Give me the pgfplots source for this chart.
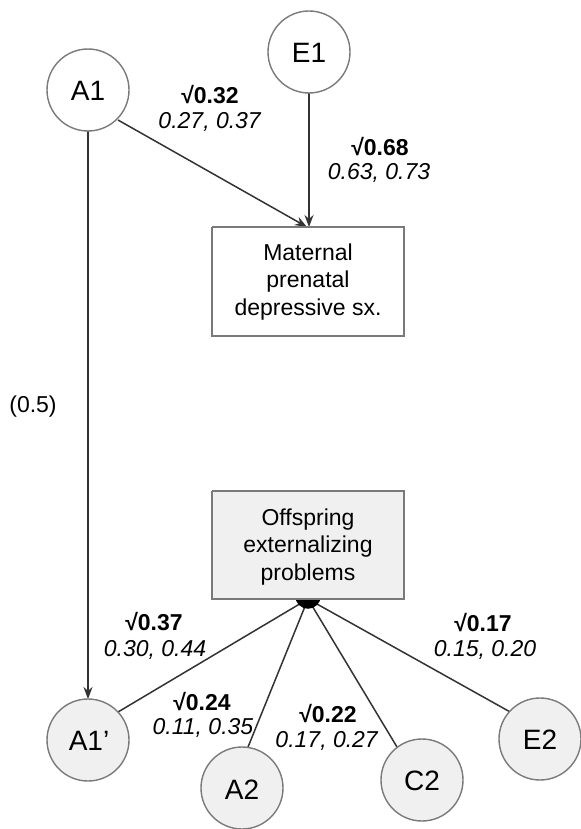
\documentclass[border=0pt]{standalone}
\usepackage{fontspec}
\setmainfont{Liberation Sans}
\usepackage{pgfplots}
\pgfplotsset{compat=1.18}
\usetikzlibrary{arrows.meta}
\definecolor{lin}{HTML}{333333}
\definecolor{bord}{HTML}{7A7A7A}
\definecolor{lgray}{HTML}{F0F0F0}
\begin{document}
\begin{tikzpicture}
\begin{axis}[
  width=290.5pt, height=414.5pt, scale only axis,
  xmin=0, xmax=581, ymin=0, ymax=829, y dir=reverse,
  axis lines=none, ticks=none, clip=false, clip marker paths=true,
  every axis plot/.append style={line width=0.75pt},
]
% paths
\addplot[lin, -{Stealth[length=6pt,width=4.5pt]}] coordinates {(118,120) (307,227)};
\addplot[lin, -{Stealth[length=6pt,width=4.5pt]}] coordinates {(309,92) (309,227)};
\addplot[lin, -{Stealth[length=6pt,width=4.5pt]}] coordinates {(88,130) (88,699)};
\addplot[lin] coordinates {(118,712) (308,599)};
\addplot[lin] coordinates {(246,752) (308,599)};
\addplot[lin] coordinates {(397,747) (308,599)};
\addplot[lin] coordinates {(512,713) (308,599)};
\addplot[only marks, mark=*, mark size=6pt, black] coordinates {(308,596)};
% boxes
\addplot[draw=bord, fill=white, line width=0.75pt] coordinates {(212,227) (404,227) (404,336) (212,336) (212,227)};
\addplot[draw=bord, fill=lgray, line width=0.75pt] coordinates {(212,491) (404,491) (404,599) (212,599) (212,491)};
% latent variables
\addplot[only marks, mark=*, mark size=20.5pt, mark options={draw=bord, fill=white, line width=0.7pt}] coordinates {(88,90) (309,52)};
\addplot[only marks, mark=*, mark size=20.5pt, mark options={draw=bord, fill=lgray, line width=0.7pt}] coordinates {(88,740) (242,788) (422,780) (540,739)};
% node texts
\node[font=\fontsize{14}{16}\selectfont] at (axis cs:88,91) {A1};
\node[font=\fontsize{14}{16}\selectfont] at (axis cs:309,53) {E1};
\node[font=\fontsize{14}{16}\selectfont] at (axis cs:89,741) {A1’};
\node[font=\fontsize{14}{16}\selectfont] at (axis cs:242,790) {A2};
\node[font=\fontsize{14}{16}\selectfont] at (axis cs:422,781) {C2};
\node[font=\fontsize{14}{16}\selectfont] at (axis cs:540,740) {E2};
\node[align=center, font=\fontsize{11.5}{13.6}\selectfont] at (axis cs:308,282) {Maternal\\prenatal\\depressive sx.};
\node[align=center, font=\fontsize{11.5}{13.8}\selectfont] at (axis cs:308,547) {Offspring\\externalizing\\problems};
\begin{scope}[every node/.style={font=\fontsize{11.5}{13}\selectfont}]
\node at (axis cs:210,95) {\textbf{√0.32}};
\node at (axis cs:210,122) {\textit{0.27, 0.37}};
\node at (axis cs:380,147) {\textbf{√0.68}};
\node at (axis cs:379,173) {\textit{0.63, 0.73}};
\node at (axis cs:154,622) {\textbf{√0.37}};
\node at (axis cs:155,650) {\textit{0.30, 0.44}};
\node at (axis cs:202,702) {\textbf{√0.24}};
\node at (axis cs:203,728) {\textit{0.11, 0.35}};
\node at (axis cs:328,714) {\textbf{√0.22}};
\node at (axis cs:327,741) {\textit{0.17, 0.27}};
\node at (axis cs:483,623) {\textbf{√0.17}};
\node at (axis cs:485,650) {\textit{0.15, 0.20}};
\node at (axis cs:33,407) {(0.5)};
\end{scope}
\end{axis}
\pgfresetboundingbox
\path[use as bounding box] (current axis.south west) rectangle (current axis.north east);
\end{tikzpicture}
\end{document}
